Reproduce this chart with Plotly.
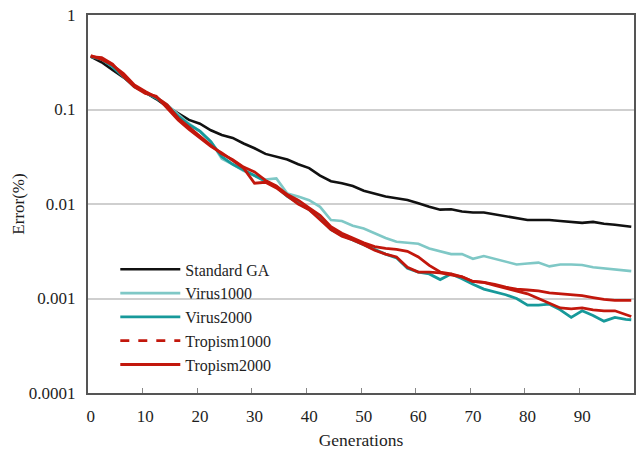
import plotly.graph_objects as go

generations = list(range(0, 100, 2)) + [99]

standard_ga = [0.363, 0.316, 0.263, 0.219, 0.178, 0.151, 0.129, 0.107, 0.0912, 0.0776,
               0.0708, 0.0603, 0.0537, 0.0501, 0.0437, 0.0389, 0.0339, 0.0316, 0.0295, 0.0263,
               0.0240, 0.0200, 0.0174, 0.0166, 0.0155, 0.0138, 0.0129, 0.0120, 0.0115, 0.0110,
               0.0102, 0.00933, 0.00871, 0.00880, 0.00832, 0.00813, 0.00813, 0.00776, 0.00741, 0.00708,
               0.00676, 0.00676, 0.00676, 0.00661, 0.00646, 0.00631, 0.00646, 0.00617, 0.00603, 0.00582,
               0.00575]

virus1000_log = [-0.44, -0.46, -0.54, -0.64, -0.75, -0.82, -0.87, -0.95, -1.05, -1.15,
                 -1.23, -1.34, -1.52, -1.58, -1.65, -1.70, -1.74, -1.73, -1.89, -1.92,
                 -1.96, -2.03, -2.17, -2.18, -2.23, -2.26, -2.31, -2.36, -2.40, -2.41,
                 -2.42, -2.47, -2.50, -2.53, -2.53, -2.58, -2.55, -2.58, -2.61, -2.64,
                 -2.63, -2.62, -2.66, -2.64, -2.64, -2.645, -2.67, -2.68, -2.69, -2.705,
                 -2.71]

virus2000_log = [-0.44, -0.47, -0.55, -0.65, -0.76, -0.82, -0.88, -0.96, -1.07, -1.16,
                 -1.23, -1.34, -1.50, -1.58, -1.64, -1.70, -1.76, -1.82, -1.92, -1.99,
                 -2.06, -2.15, -2.27, -2.33, -2.38, -2.43, -2.48, -2.53, -2.57, -2.68,
                 -2.72, -2.74, -2.80, -2.74, -2.79, -2.85, -2.90, -2.93, -2.96, -3.00,
                 -3.07, -3.07, -3.06, -3.12, -3.20, -3.13, -3.18, -3.24, -3.20, -3.22,
                 -3.225]

tropism1000_log = [-0.43, -0.47, -0.53, -0.62, -0.74, -0.81, -0.87, -0.95, -1.09, -1.19,
                   -1.28, -1.38, -1.47, -1.53, -1.61, -1.66, -1.75, -1.81, -1.90, -1.96,
                   -2.04, -2.12, -2.24, -2.31, -2.36, -2.41, -2.45, -2.47, -2.48, -2.50,
                   -2.56, -2.65, -2.72, -2.74, -2.77, -2.82, -2.83, -2.85, -2.88, -2.90,
                   -2.91, -2.92, -2.94, -2.95, -2.96, -2.97, -2.99, -3.01, -3.02, -3.02,
                   -3.02]

tropism2000_log = [-0.44, -0.45, -0.52, -0.65, -0.76, -0.83, -0.86, -0.98, -1.11, -1.21,
                   -1.30, -1.39, -1.46, -1.54, -1.62, -1.78, -1.77, -1.83, -1.92, -2.00,
                   -2.06, -2.16, -2.27, -2.34, -2.38, -2.43, -2.49, -2.53, -2.56, -2.67,
                   -2.72, -2.72, -2.73, -2.75, -2.77, -2.82, -2.83, -2.86, -2.89, -2.92,
                   -2.95, -3.00, -3.05, -3.10, -3.11, -3.10, -3.12, -3.13, -3.13, -3.17,
                   -3.19]

virus1000 = [10 ** v for v in virus1000_log]
virus2000 = [10 ** v for v in virus2000_log]
tropism1000 = [10 ** v for v in tropism1000_log]
tropism2000 = [10 ** v for v in tropism2000_log]

x_tick_vals = list(range(0, 100, 10))
x_minor_ticks = [v - 0.5 for v in range(10, 100, 10)]
y_tick_vals = [0.0001, 0.001, 0.01, 0.1, 1]
y_tick_text = ["0.0001", "0.001", "0.01", "0.1", "1"]

FONT = "Liberation Serif, Times New Roman, serif"
TEXT = "#1e1e1e"
BLACK = "#111111"
LIGHT_TEAL = "#7fc8c6"
TEAL = "#17999a"
RED = "#c2170c"

fig = go.Figure()
fig.add_trace(go.Scatter(x=generations, y=standard_ga, mode="lines", name="Standard GA",
                         line=dict(color=BLACK, width=2.6), legendgroup="a"))
fig.add_trace(go.Scatter(x=generations, y=virus1000, mode="lines", name="Virus1000",
                         line=dict(color=LIGHT_TEAL, width=2.6), legendgroup="b"))
fig.add_trace(go.Scatter(x=generations, y=virus2000, mode="lines", name="Virus2000",
                         line=dict(color=TEAL, width=2.8), legendgroup="c"))
fig.add_trace(go.Scatter(x=generations, y=tropism1000, mode="lines", name="Tropism1000",
                         line=dict(color=RED, width=2.8), legendgroup="d", showlegend=False))
fig.add_trace(go.Scatter(x=[None], y=[None], mode="lines", name="Tropism1000",
                         line=dict(color=RED, width=2.8, dash="dash"), legendgroup="d"))
fig.add_trace(go.Scatter(x=generations, y=tropism2000, mode="lines", name="Tropism2000",
                         line=dict(color=RED, width=2.8), legendgroup="e"))

fig.update_layout(
    width=642, height=457,
    margin=dict(l=88, r=6, t=13, b=64),
    paper_bgcolor="white", plot_bgcolor="white",
    font=dict(family=FONT, size=17, color=TEXT),
    showlegend=True,
    legend=dict(x=0.05, y=0.372, xanchor="left", yanchor="top",
                bgcolor="rgba(0,0,0,0)", font=dict(family=FONT, size=16, color=TEXT),
                tracegroupgap=0, itemwidth=60),
    xaxis=dict(range=[-0.5, 99.5], tickmode="array", tickvals=x_tick_vals,
               ticks="", showgrid=False, zeroline=False,
               showline=True, linecolor="#555555", linewidth=2, mirror=True,
               ticklabelstandoff=7, tickfont=dict(family=FONT, size=17, color=TEXT),
               minor=dict(tickmode="array", tickvals=x_minor_ticks, ticks="inside",
                          ticklen=5, tickcolor="#888888", tickwidth=1, showgrid=False),
               title=dict(text="Generations", font=dict(family=FONT, size=17.5, color=TEXT), standoff=8)),
    yaxis=dict(type="log", range=[-4, 0], tickmode="array", tickvals=y_tick_vals,
               ticktext=y_tick_text, ticks="", showgrid=True, gridcolor="#cfcfcf", gridwidth=1.5,
               zeroline=False, showline=True, linecolor="#555555", linewidth=2, mirror=True,
               ticklabelstandoff=7, tickfont=dict(family=FONT, size=17, color=TEXT),
               title=dict(text="Error(%)", font=dict(family=FONT, size=17, color=TEXT), standoff=0)),
)

fig.write_html("out.html")
